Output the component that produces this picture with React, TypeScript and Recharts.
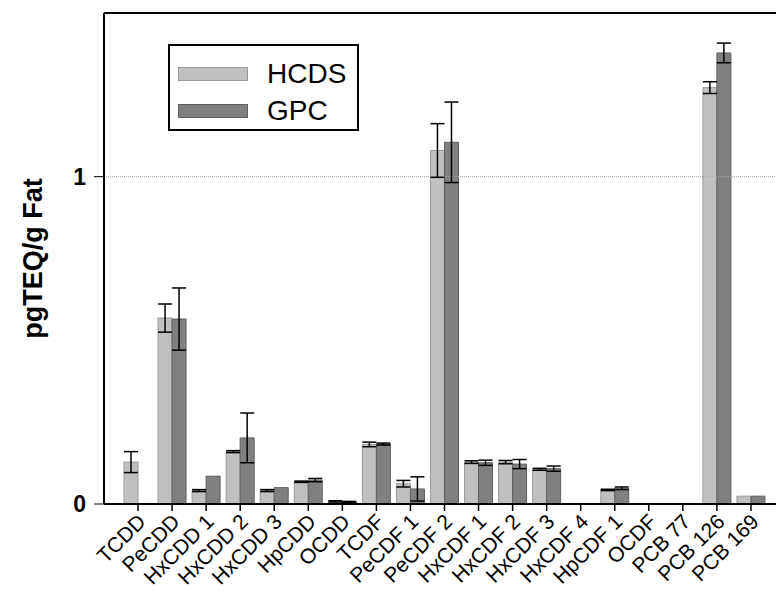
import React from 'react';
import { BarChart, Bar, XAxis, YAxis, ErrorBar, ReferenceLine } from 'recharts';

const categories = [
  'TCDD', 'PeCDD', 'HxCDD 1', 'HxCDD 2', 'HxCDD 3', 'HpCDD', 'OCDD', 'TCDF', 'PeCDF 1', 'PeCDF 2',
  'HxCDF 1', 'HxCDF 2', 'HxCDF 3', 'HxCDF 4', 'HpCDF 1', 'OCDF', 'PCB 77', 'PCB 126', 'PCB 169',
];
const hcds = [0.128, 0.568, 0.041, 0.16, 0.041, 0.068, 0.008, 0.182, 0.062, 1.08, 0.128, 0.128, 0.106, 0, 0.043, 0, 0, 1.272, 0.024];
const hcdsErr = [0.032, 0.043, 0.003, 0.003, 0.003, 0.002, 0.002, 0.007, 0.01, 0.082, 0.004, 0.005, 0.003, 0, 0.002, 0, 0, 0.018, 0];
const gpc = [0, 0.565, 0.085, 0.202, 0.05, 0.073, 0.006, 0.183, 0.046, 1.105, 0.126, 0.122, 0.108, 0, 0.048, 0, 0, 1.378, 0.024];
const gpcErr = [0, 0.095, 0, 0.076, 0, 0.005, 0.002, 0.003, 0.037, 0.123, 0.008, 0.014, 0.008, 0, 0.004, 0, 0, 0.03, 0];
const yTicks = [0, 1];
const seriesNames = ['HCDS', 'GPC'];

const data = categories.map((name, i) => ({
  name,
  hcds: hcds[i],
  hcdsErr: hcdsErr[i],
  gpc: gpc[i],
  gpcErr: gpcErr[i],
}));

const FONT = '"Liberation Sans", Arial, sans-serif';
const LIGHT = '#c0c0c0';
const DARK = '#808080';

const XTick = ({ x, y, payload }: any) => (
  <text
    transform={`translate(${x + 9},${y + 10}) rotate(-45)`}
    textAnchor="end"
    fontSize={21}
    fontFamily={FONT}
    fill="#000"
  >
    {payload.value}
  </text>
);

const YLabel = ({ viewBox }: any) => {
  const cy = viewBox.y + viewBox.height / 2;
  return (
    <text
      transform={`translate(42,${cy}) rotate(-90)`}
      textAnchor="middle"
      fontSize={27}
      fontWeight="bold"
      fontFamily={FONT}
      fill="#000"
    >
      pgTEQ/g Fat
    </text>
  );
};

const LegendBox = () => (
  <div
    style={{
      position: 'absolute',
      left: 168,
      top: 44,
      width: 187,
      height: 83,
      border: '2px solid #000',
      background: '#fff',
      fontFamily: FONT,
      fontSize: 28,
    }}
  >
    {seriesNames.map((label, i) => (
      <div key={label} style={{ position: 'absolute', left: 8, top: 14 + i * 37, display: 'flex', alignItems: 'center' }}>
        <div
          style={{
            width: 68,
            height: 12,
            background: i === 0 ? LIGHT : DARK,
            border: `1px solid ${i === 0 ? '#999' : '#5f5f5f'}`,
          }}
        />
        <span style={{ marginLeft: 19, lineHeight: '28px' }}>{label}</span>
      </div>
    ))}
  </div>
);

export default function App() {
  return (
    <div style={{ position: 'absolute', left: 0, top: 0, width: 776, height: 601, background: '#fff' }}>
      <BarChart
        width={776}
        height={601}
        data={data}
        margin={{ top: 13, right: 0, bottom: 0, left: 0 }}
        barSize={14}
        barGap={0}
      >
        <ReferenceLine y={1} stroke="#aaa" strokeDasharray="1 1" />
        <ReferenceLine y={1.5} stroke="#000" strokeWidth={2} />
        <XAxis
          dataKey="name"
          interval={0}
          padding={{ left: 17, right: 8 }}
          height={97}
          tick={<XTick />}
          tickSize={7}
          axisLine={{ stroke: '#000', strokeWidth: 2 }}
          tickLine={{ stroke: '#000', strokeWidth: 1.5 }}
        />
        <YAxis
          domain={[0, 1.5]}
          ticks={yTicks}
          allowDataOverflow
          width={104}
          tickSize={10}
          tickMargin={8}
          axisLine={{ stroke: '#000', strokeWidth: 2 }}
          tickLine={{ stroke: '#000', strokeWidth: 1 }}
          tick={{ fontSize: 23, fontWeight: 'bold', fill: '#000', fontFamily: FONT }}
          label={<YLabel />}
        />
        <Bar dataKey="hcds" name="HCDS" fill={LIGHT} stroke="#9a9a9a" isAnimationActive={false}>
          <ErrorBar dataKey="hcdsErr" width={7} stroke="#000" strokeWidth={1.5} />
        </Bar>
        <Bar dataKey="gpc" name="GPC" fill={DARK} stroke="#5f5f5f" isAnimationActive={false}>
          <ErrorBar dataKey="gpcErr" width={7} stroke="#000" strokeWidth={1.5} />
        </Bar>
      </BarChart>
      <LegendBox />
    </div>
  );
}
